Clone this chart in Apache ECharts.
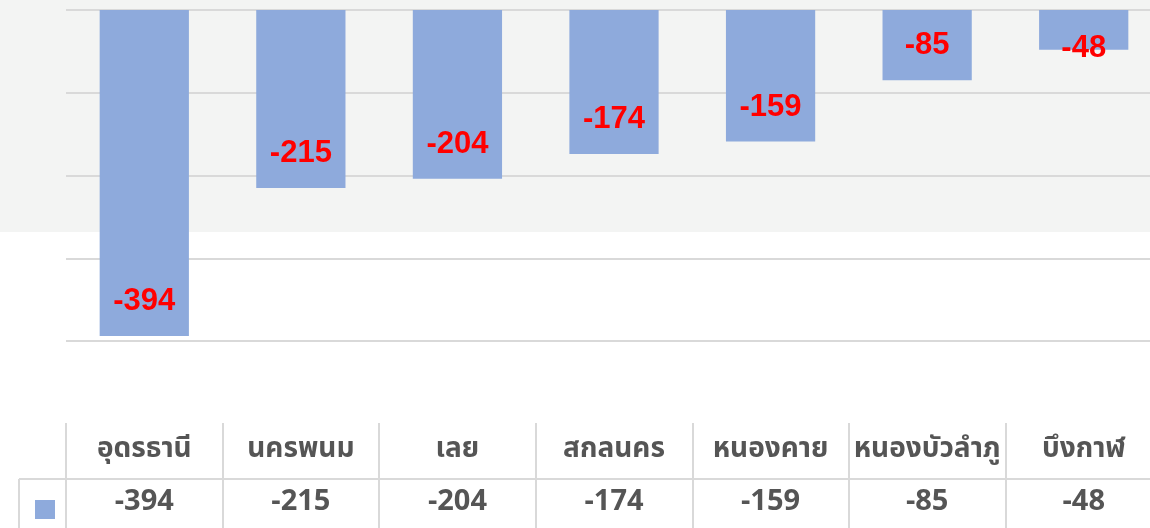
<!DOCTYPE html>
<html>
<head>
<meta charset="utf-8">
<script src="https://cdn.jsdelivr.net/npm/echarts@6/dist/echarts.min.js"></script>
<style>
  html, body { margin: 0; padding: 0; background: #fff; }
  #chart { width: 1150px; height: 528px; }
</style>
</head>
<body>
<div id="chart"></div>
<script>
// จังหวัด / ค่า
const provinces = ['อุดรธานี', 'นครพนม', 'เลย', 'สกลนคร', 'หนองคาย', 'หนองบัวลำภู', 'บึงกาฬ']
const values = [-394, -215, -204, -174, -159, -85, -48]
const yTicks = { min: -400, max: 0, interval: 100 }

const chart = echarts.init(document.getElementById('chart'), null, { renderer: 'canvas' })

const barColor = '#8eaadc'
const lineColor = '#d9d9d9'
const thaiFont = '"Noto Sans Thai", "Noto Sans", "DejaVu Sans", sans-serif'

chart.setOption({
  backgroundColor: '#ffffff',
  animation: false,
  legend: {
    left: 30,
    top: 495,
    itemWidth: 20,
    itemHeight: 19,
    icon: 'rect',
    formatter: () => '',
    data: ['s'],
    selectedMode: false,
  },
  graphic: [
    // พื้นหลังสีเทาด้านบน
    { type: 'rect', z: -10, shape: { x: 0, y: 0, width: 1150, height: 232 }, style: { fill: '#f3f4f3' } },
    // เส้นตาราง
    { type: 'line', z: 5, shape: { x1: 19, y1: 479, x2: 1150, y2: 479 }, style: { stroke: lineColor, lineWidth: 2 } },
    { type: 'line', z: 5, shape: { x1: 19, y1: 479, x2: 19, y2: 528 }, style: { stroke: lineColor, lineWidth: 2 } },
  ],
  grid: [
    { left: 66, top: 10, width: 1096, height: 331, outerBoundsMode: 'none' },
    { left: 66, top: 423, width: 1096, height: 120, outerBoundsMode: 'none' },
  ],
  xAxis: [
    {
      gridIndex: 0,
      type: 'category',
      data: provinces,
      axisLine: { show: false },
      axisTick: { show: false },
      axisLabel: { show: false },
    },
    {
      gridIndex: 1,
      type: 'category',
      position: 'top',
      data: provinces,
      axisLine: { show: true, lineStyle: { color: lineColor, width: 2 } },
      axisTick: { show: false },
      splitLine: { show: true, lineStyle: { color: lineColor, width: 2 } },
      axisLabel: {
        inside: true,
        margin: 14,
        verticalAlign: 'top',
        color: '#555555',
        fontSize: 28,
        fontWeight: 'bold',
        fontFamily: thaiFont,
        interval: 0,
      },
    },
    {
      gridIndex: 1,
      type: 'category',
      position: 'top',
      offset: -56,
      data: values.map(String),
      axisLine: { show: false },
      axisTick: { show: false },
      axisLabel: {
        inside: true,
        margin: 11,
        verticalAlign: 'top',
        color: '#555555',
        fontSize: 29,
        fontWeight: 'bold',
        fontFamily: thaiFont,
        interval: 0,
      },
    },
  ],
  yAxis: [
    {
      gridIndex: 0,
      type: 'value',
      min: yTicks.min,
      max: yTicks.max,
      interval: yTicks.interval,
      axisLine: { show: false },
      axisTick: { show: false },
      axisLabel: { show: false },
      splitLine: { lineStyle: { color: lineColor, width: 2 } },
    },
    {
      gridIndex: 1,
      type: 'value',
      show: false,
    },
  ],
  series: [{
    name: 's',
    type: 'bar',
    xAxisIndex: 0,
    yAxisIndex: 0,
    barWidth: '57%',
    itemStyle: { color: barColor },
    data: values.map(v => ({
      value: v,
      // แท่งสั้นเกินไป ให้ป้ายอยู่ที่ปลายแท่ง
      label: v > -60 ? { position: 'bottom', distance: -17 } : undefined,
    })),
    label: {
      show: true,
      position: 'insideBottom',
      distance: 19,
      color: '#ff0000',
      fontSize: 31,
      fontWeight: 'bold',
      fontFamily: '"Liberation Sans", Arial, sans-serif',
    },
  }],
})
</script>
</body>
</html>
